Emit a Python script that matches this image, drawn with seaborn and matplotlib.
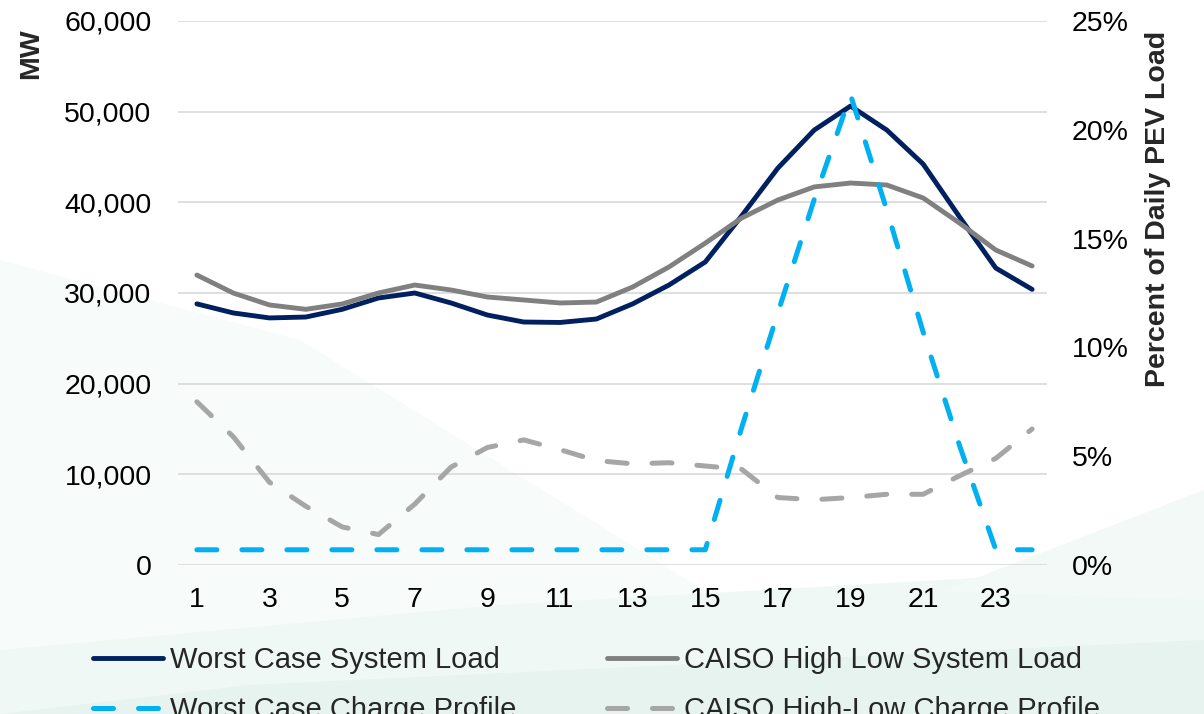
import matplotlib
matplotlib.use("Agg")
import matplotlib.pyplot as plt
from matplotlib.patches import Polygon
from matplotlib.ticker import FuncFormatter
import pandas as pd
import seaborn as sns

hours = list(range(1, 25))
worst_load = [28800, 27800, 27250, 27350, 28200, 29450, 30000, 28900, 27570, 26800, 26750, 27130,
              28800, 30880, 33420, 38500, 43780, 47970, 50620, 47970, 44220, 38400, 32750, 30400]
caiso_load = [31980, 30000, 28680, 28200, 28790, 30000, 30880, 30330, 29560, 29230, 28900, 29000,
              30660, 32870, 35500, 38270, 40260, 41700, 42130, 41910, 40480, 37720, 34740, 32980]
worst_charge = [0.7, 0.7, 0.7, 0.7, 0.7, 0.7, 0.7, 0.7, 0.7, 0.7, 0.7, 0.7,
                0.7, 0.7, 0.7, 6.3, 11.6, 16.8, 21.6, 16.3, 10.7, 5.5, 0.7, 0.7]
caiso_charge = [7.5, 5.9, 3.8, 2.7, 1.75, 1.4, 2.8, 4.5, 5.4, 5.75, 5.3, 4.8,
                4.65, 4.7, 4.55, 4.4, 3.1, 3.0, 3.1, 3.25, 3.25, 4.1, 4.9, 6.25]
labels = ['Worst Case System Load', 'CAISO High Low System Load',
          'Worst Case Charge Profile', 'CAISO High-Low Charge Profile']

df = pd.DataFrame({'hour': hours, 'worst_load': worst_load, 'caiso_load': caiso_load,
                   'worst_charge': worst_charge, 'caiso_charge': caiso_charge})

sns.set_style('white')
plt.rcParams['font.family'] = ['Liberation Sans', 'DejaVu Sans']
FS = 20.5

W, H = 1204, 714
fig = plt.figure(figsize=(12.04, 7.14), dpi=100, facecolor='white')

# faint green background shapes
def px_poly(pts, color):
    p = Polygon([(x / W, 1 - y / H) for x, y in pts], closed=True, transform=fig.transFigure,
                facecolor=color, edgecolor='none', zorder=-10)
    fig.patches.append(p)

px_poly([(0, 260), (300, 340), (720, 600), (0, 714)], '#f7fbfa')
px_poly([(0, 714), (0, 650), (500, 605), (1204, 565), (1204, 714)], '#f0f8f5')
px_poly([(940, 592), (1204, 490), (1204, 600)], '#f3f9f6')
px_poly([(0, 714), (250, 685), (1204, 640), (1204, 714)], '#e6f3ee')

ax = fig.add_axes([178 / W, 1 - 565 / H, (1047 - 178) / W, (565 - 21) / H])
ax.patch.set_visible(False)
ax2 = ax.twinx()

sns.lineplot(data=df, x='hour', y='worst_load', ax=ax, color='#002060', linewidth=3.5,
             solid_capstyle='round', label=labels[0], legend=False)
sns.lineplot(data=df, x='hour', y='caiso_load', ax=ax, color='#808080', linewidth=3.5,
             solid_capstyle='round', label=labels[1], legend=False)
sns.lineplot(data=df, x='hour', y='worst_charge', ax=ax2, color='#00B0F0', linewidth=3.6,
             linestyle=(0, (4.0, 5.0)), dash_capstyle='round', label=labels[2], legend=False)
sns.lineplot(data=df, x='hour', y='caiso_charge', ax=ax2, color='#A6A6A6', linewidth=3.6,
             linestyle=(0, (4.0, 5.0)), dash_capstyle='round', label=labels[3], legend=False)

ax.set_xlim(0.48, 24.41)
ax.set_ylim(0, 60000)
ax2.set_ylim(0, 25)
ax.set_xticks(range(1, 24, 2))
ax.set_yticks(range(0, 60001, 10000))
ax2.set_yticks(range(0, 26, 5))
ax.yaxis.set_major_formatter(FuncFormatter(lambda v, p: f'{int(v):,}'))
ax2.yaxis.set_major_formatter(FuncFormatter(lambda v, p: f'{int(v)}%'))
ax.grid(axis='y', color='#D9D9D9', linewidth=1.2)
ax.grid(axis='x', visible=False)
ax2.grid(False)
ax.set_axisbelow(True)
for a in (ax, ax2):
    for s in a.spines.values():
        s.set_visible(False)
    a.set_xlabel('')
    a.set_ylabel('')
ax.tick_params(axis='x', length=0, pad=16, labelsize=FS, colors='black')
ax.tick_params(axis='y', length=0, pad=19, labelsize=FS, colors='black')
ax2.tick_params(axis='y', length=0, pad=18, labelsize=FS, colors='black')

fig.text(31 / W, 1 - 54 / H, 'MW', rotation=90, ha='center', va='center',
         fontsize=FS, fontweight='bold')
fig.text(1158 / W, 1 - 209 / H, 'Percent of Daily PEV Load', rotation=90, ha='center',
         va='center', fontsize=FS, fontweight='bold')

# legend sits low, second row runs off the bottom edge as in the original
h1, _ = ax.get_legend_handles_labels()
h2, _ = ax2.get_legend_handles_labels()
handles = [h1[0], h2[0], h1[1], h2[1]]
leg_labels = [labels[0], labels[2], labels[1], labels[3]]
fig.legend(handles, leg_labels, ncol=2, loc='upper left', frameon=False,
           bbox_to_anchor=(93 / W, 1 - 646 / H), borderaxespad=0, borderpad=0,
           fontsize=21, handlelength=2.4, handletextpad=0.25, columnspacing=3.1,
           labelspacing=0.75)

fig.savefig('out.png', dpi=100, facecolor='white')
